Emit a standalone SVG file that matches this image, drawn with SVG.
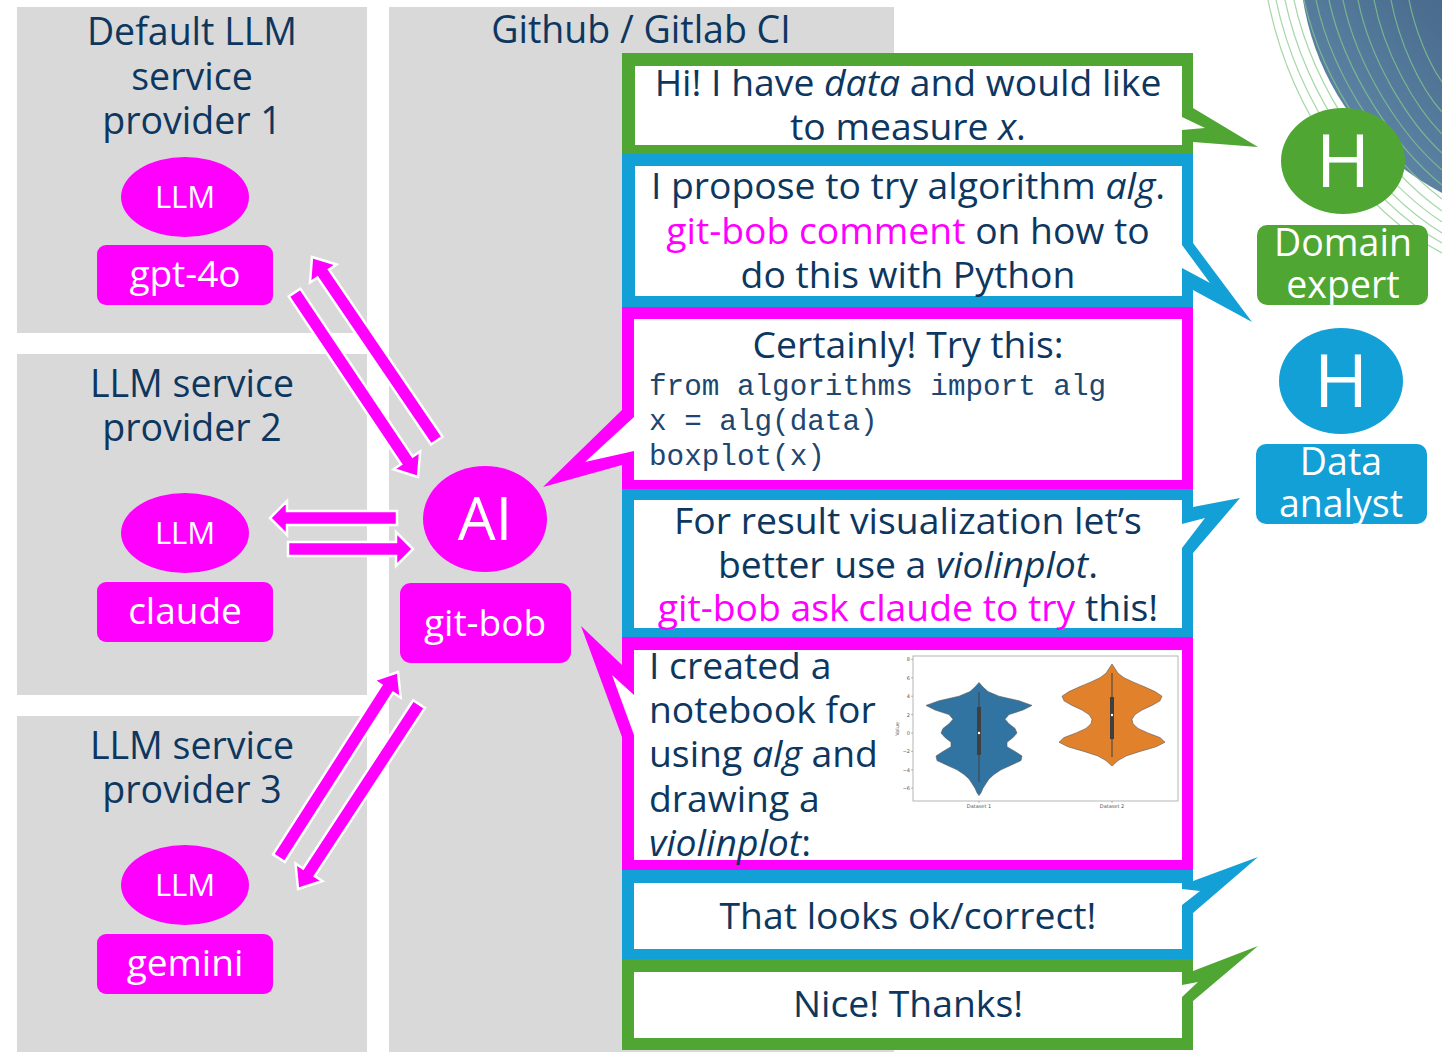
<svg xmlns="http://www.w3.org/2000/svg" width="1442" height="1052" viewBox="0 0 1442 1052">
  <defs>
    <style>
      .panel { fill: #d9d9d9; }
      .title { font-family: "Open Sans", "Liberation Sans", sans-serif; font-size: 37.5px; fill: #0d375f; text-anchor: middle; }
      .mag { fill: #ff00ff; }
      .wlabel { font-family: "Open Sans", "Liberation Sans", sans-serif; fill: #ffffff; text-anchor: middle; }
      .arrow { fill: #ff00ff; stroke: #ffffff; stroke-width: 2.5; stroke-linejoin: miter; }
      .say { font-family: "Open Sans", "Liberation Sans", sans-serif; font-size: 37.3px; fill: #0d375f; text-anchor: middle; }
      .left { text-anchor: start; }
      .code { font-family: "Liberation Mono", "Courier New", monospace; font-size: 29.3px; fill: #1d4670; }
      .pink { fill: #ff00ff; }
      .green { fill: #50a632; }
      .blue { fill: #12a0d7; }
      .white { fill: #ffffff; }
      .tick { font-family: "DejaVu Sans", sans-serif; font-size: 5px; fill: #555555; }
      .contour { fill: none; stroke: #86c98a; stroke-width: 1.2; opacity: 0.75; }
    </style>
    <linearGradient id="globe" x1="1" y1="0" x2="0" y2="1">
      <stop offset="0" stop-color="#2c4863"/>
      <stop offset="0.55" stop-color="#3f5f80"/>
      <stop offset="1" stop-color="#6a94b6"/>
    </linearGradient>
  </defs>

  <rect width="1442" height="1052" fill="#ffffff"/>

  <!-- corner decoration: globe with contour lines -->
  <g id="decor">
    <ellipse cx="1562" cy="-40" rx="262" ry="262" fill="url(#globe)"/>
    <path class="contour" d="M1268,0 C1290,110 1360,210 1442,253"/>
    <path class="contour" d="M1276,0 C1298,104 1366,200 1442,243"/>
    <path class="contour" d="M1285,0 C1306,98 1372,190 1442,233"/>
    <path class="contour" d="M1294,0 C1314,92 1378,180 1442,222"/>
    <path class="contour" d="M1304,0 C1323,86 1384,170 1442,211"/>
    <path class="contour" d="M1316,0 C1333,80 1390,160 1442,199"/>
    <path class="contour" d="M1329,0 C1345,74 1396,148 1442,185"/>
    <path class="contour" d="M1343,0 C1357,68 1402,136 1442,170"/>
    <path class="contour" d="M1358,0 C1370,60 1408,122 1442,153"/>
    <path class="contour" d="M1374,0 C1384,52 1414,106 1442,134"/>
    <path class="contour" d="M1391,0 C1399,42 1420,88 1442,112"/>
    <path class="contour" d="M1409,0 C1415,30 1428,62 1442,82"/>
  </g>

  <!-- provider panels -->
  <g id="provider1">
    <rect class="panel" x="17" y="7" width="350" height="326"/>
    <text class="title" x="192" y="45">Default LLM</text>
    <text class="title" x="192" y="90">service</text>
    <text class="title" x="192" y="134">provider 1</text>
    <ellipse class="mag" cx="185" cy="197" rx="64" ry="40"/>
    <text class="wlabel" x="185" y="208" font-size="31">LLM</text>
    <rect class="mag" x="97" y="245" width="176" height="60" rx="9"/>
    <text class="wlabel" x="185" y="287" font-size="37">gpt-4o</text>
  </g>

  <g id="provider2">
    <rect class="panel" x="17" y="354" width="350" height="341"/>
    <text class="title" x="192" y="397">LLM service</text>
    <text class="title" x="192" y="441">provider 2</text>
    <ellipse class="mag" cx="185" cy="533" rx="64" ry="40"/>
    <text class="wlabel" x="185" y="544" font-size="31">LLM</text>
    <rect class="mag" x="97" y="582" width="176" height="60" rx="9"/>
    <text class="wlabel" x="185" y="624" font-size="37">claude</text>
  </g>

  <g id="provider3">
    <rect class="panel" x="17" y="716" width="350" height="336"/>
    <text class="title" x="192" y="759">LLM service</text>
    <text class="title" x="192" y="803">provider 3</text>
    <ellipse class="mag" cx="185" cy="885" rx="64" ry="40"/>
    <text class="wlabel" x="185" y="896" font-size="31">LLM</text>
    <rect class="mag" x="97" y="934" width="176" height="60" rx="9"/>
    <text class="wlabel" x="185" y="976" font-size="37">gemini</text>
  </g>

  <g id="ci">
    <rect class="panel" x="389" y="7" width="505" height="1045"/>
    <text class="title" x="641" y="43">Github / Gitlab CI</text>
  </g>

  <!-- git-bob agent -->
  <g id="gitbob">
    <ellipse class="mag" cx="485" cy="519" rx="62" ry="53"/>
    <text class="wlabel" x="485" y="540" font-size="60">AI</text>
    <rect class="mag" x="400" y="583" width="171" height="80" rx="11"/>
    <text class="wlabel" x="485" y="636" font-size="37">git-bob</text>
  </g>

  <!-- request / response arrows between git-bob and the providers -->
  <g id="connectors">
    <polygon class="arrow" transform="translate(312,257) rotate(-124.2)" points="0,0 -20,-16 -20,-7 -222,-7 -222,7 -20,7 -20,16"/>
    <polygon class="arrow" transform="translate(418,477) rotate(56.2)" points="0,0 -20,-16 -20,-7 -222,-7 -222,7 -20,7 -20,16"/>
    <polygon class="arrow" transform="translate(270,518) rotate(180)" points="0,0 -17,-17 -17,-7 -127,-7 -127,7 -17,7 -17,17"/>
    <polygon class="arrow" transform="translate(413,549)" points="0,0 -17,-17 -17,-7 -125,-7 -125,7 -17,7 -17,17"/>
    <polygon class="arrow" transform="translate(398,672) rotate(-57.4)" points="0,0 -20,-16 -20,-7 -221,-7 -221,7 -20,7 -20,16"/>
    <polygon class="arrow" transform="translate(298,889) rotate(123.2)" points="0,0 -20,-16 -20,-7 -221,-7 -221,7 -20,7 -20,16"/>
  </g>

  <!-- conversation callouts -->
  <g id="msg1">
    <polygon class="green" points="622,53 1193,53 1193,108 1258,147 1193,142 1193,157 622,157"/>
    <polygon class="white" points="635,66 1182,66 1182,117 1205,128 1182,130 1182,145 635,145"/>
    <text class="say" x="908" y="96">Hi! I have <tspan font-style="italic">data</tspan> and would like</text>
    <text class="say" x="908" y="140">to measure <tspan font-style="italic">x</tspan>.</text>
  </g>

  <g id="msg2">
    <polygon class="blue" points="622,154 1193,154 1193,243 1252,322 1193,290 1193,310 622,310"/>
    <polygon class="white" points="635,166 1182,166 1182,245 1210,283 1182,268 1182,296 635,296"/>
    <text class="say" x="908" y="199">I propose to try algorithm <tspan font-style="italic">alg</tspan>.</text>
    <text class="say" x="908" y="244"><tspan class="pink">git-bob comment</tspan> on how to</text>
    <text class="say" x="908" y="288">do this with Python</text>
  </g>

  <g id="msg3">
    <polygon class="pink" points="622,307 1193,307 1193,491 622,491 622,465 543,487 622,410"/>
    <polygon class="white" points="634,319 1182,319 1182,480 634,480 634,451 585,462 634,417"/>
    <text class="say" x="908" y="358">Certainly! Try this:</text>
    <text class="code" x="649" y="395">from algorithms import alg</text>
    <text class="code" x="649" y="430">x = alg(data)</text>
    <text class="code" x="649" y="465">boxplot(x)</text>
  </g>

  <g id="msg4">
    <polygon class="blue" points="622,489 1193,489 1193,507 1240,498 1193,553 1193,640 622,640"/>
    <polygon class="white" points="634,500 1182,500 1182,524 1205,518 1182,548 1182,628 634,628"/>
    <text class="say" x="908" y="534">For result visualization let’s</text>
    <text class="say" x="908" y="578">better use a <tspan font-style="italic">violinplot</tspan>.</text>
    <text class="say" x="908" y="621"><tspan class="pink">git-bob ask claude to try</tspan> this!</text>
  </g>

  <g id="msg5">
    <polygon class="pink" points="622,637 1193,637 1193,872 622,872 622,737 581,626 622,665"/>
    <polygon class="white" points="634,650 1182,650 1182,860 634,860 634,735 612,675 634,695"/>
    <text class="say left" x="649" y="679">I created a</text>
    <text class="say left" x="649" y="723">notebook for</text>
    <text class="say left" x="649" y="767">using <tspan font-style="italic">alg</tspan> and</text>
    <text class="say left" x="649" y="812">drawing a</text>
    <text class="say left" x="649" y="856"><tspan font-style="italic">violinplot</tspan>:</text>

    <!-- violin plot figure -->
    <g id="plot">
      <rect x="913" y="656" width="265" height="145" fill="#ffffff" stroke="#b5b5b5" stroke-width="1"/>
      <g stroke="#888888" stroke-width="0.6">
        <line x1="911" y1="659.4" x2="913" y2="659.4"/>
        <line x1="911" y1="677.8" x2="913" y2="677.8"/>
        <line x1="911" y1="696.2" x2="913" y2="696.2"/>
        <line x1="911" y1="714.6" x2="913" y2="714.6"/>
        <line x1="911" y1="733" x2="913" y2="733"/>
        <line x1="911" y1="751.4" x2="913" y2="751.4"/>
        <line x1="911" y1="769.8" x2="913" y2="769.8"/>
        <line x1="911" y1="788.2" x2="913" y2="788.2"/>
        <line x1="979" y1="801" x2="979" y2="803"/>
        <line x1="1112" y1="801" x2="1112" y2="803"/>
      </g>
      <g class="tick" text-anchor="end">
        <text x="910" y="661">8</text>
        <text x="910" y="679.5">6</text>
        <text x="910" y="698">4</text>
        <text x="910" y="716.5">2</text>
        <text x="910" y="735">0</text>
        <text x="910" y="753">−2</text>
        <text x="910" y="771.5">−4</text>
        <text x="910" y="790">−6</text>
      </g>
      <text class="tick" x="979" y="808" text-anchor="middle">Dataset 1</text>
      <text class="tick" x="1112" y="808" text-anchor="middle">Dataset 2</text>
      <text class="tick" transform="translate(899,729) rotate(-90)" text-anchor="middle">Value</text>

      <polygon fill="#3274a1" stroke="#5a5a5a" stroke-width="0.6" stroke-linejoin="round" points="979,682.4 983,687 988,691.6 999,696.2 1019,700.8 1032,705.4 1023,710 1009,714.6 1005,719.2 1009,723.8 1015,728.4 1017,733 1013,737.6 1007,742.2 1007,746.8 1015,751.4 1022,756 1021,760.6 1011,765.2 1001,769.8 994,774.4 989,779 986,783.6 983,788.2 981,792.8 979,795.6 977,792.8 975,788.2 972,783.6 969,779 964,774.4 957,769.8 947,765.2 937,760.6 936,756 943,751.4 951,746.8 951,742.2 945,737.6 941,733 943,728.4 949,723.8 953,719.2 949,714.6 935,710 926,705.4 939,700.8 959,696.2 970,691.6 975,687"/>
      <polygon fill="#e1812c" stroke="#5a5a5a" stroke-width="0.6" stroke-linejoin="round" points="1112,664 1115,668.6 1118,673.2 1124,677.8 1134,682.4 1145,687 1155,691.6 1162,696.2 1160,700.8 1152,705.4 1142,710 1135,714.6 1132,719.2 1133,723.8 1138,728.4 1148,733 1160,737.6 1165,742.2 1156,746.8 1140,751.4 1126,756 1118,760.6 1112,766.1 1106,760.6 1098,756 1084,751.4 1068,746.8 1059,742.2 1064,737.6 1076,733 1086,728.4 1091,723.8 1092,719.2 1089,714.6 1082,710 1072,705.4 1064,700.8 1062,696.2 1069,691.6 1079,687 1090,682.4 1100,677.8 1106,673.2 1109,668.6"/>
      <g stroke="#3f3f3f">
        <line x1="979" y1="692" x2="979" y2="782" stroke-width="1"/>
        <line x1="979" y1="707" x2="979" y2="755" stroke-width="4"/>
        <line x1="1112" y1="673" x2="1112" y2="757" stroke-width="1"/>
        <line x1="1112" y1="697" x2="1112" y2="739" stroke-width="4"/>
      </g>
      <circle cx="979" cy="733" r="1.2" fill="#ffffff"/>
      <circle cx="1112" cy="715" r="1.2" fill="#ffffff"/>
    </g>
  </g>

  <g id="msg6">
    <polygon class="blue" points="622,870 1193,870 1193,881 1258,857 1193,913 1193,962 622,962"/>
    <polygon class="white" points="634,883 1182,883 1182,889 1200,891 1182,905 1182,949 634,949"/>
    <text class="say" x="908" y="929">That looks ok/correct!</text>
  </g>

  <g id="msg7">
    <polygon class="green" points="622,959 1193,959 1193,971 1258,946 1193,1001 1193,1050 622,1050"/>
    <polygon class="white" points="634,972 1182,972 1182,985 1198,982 1182,997 1182,1038 634,1038"/>
    <text class="say" x="908" y="1017">Nice! Thanks!</text>
  </g>

  <!-- human roles -->
  <g id="domain-expert">
    <ellipse class="green" cx="1343" cy="161" rx="62" ry="53"/>
    <text class="wlabel" x="1343" y="187" font-size="74">H</text>
    <rect class="green" x="1257" y="225" width="171" height="80" rx="10"/>
    <text class="wlabel" x="1343" y="256" font-size="37.5">Domain</text>
    <text class="wlabel" x="1343" y="298" font-size="37.5">expert</text>
  </g>

  <g id="data-analyst">
    <ellipse class="blue" cx="1341" cy="381" rx="62" ry="53"/>
    <text class="wlabel" x="1341" y="407" font-size="74">H</text>
    <rect class="blue" x="1256" y="444" width="171" height="80" rx="10"/>
    <text class="wlabel" x="1341" y="475" font-size="37.5">Data</text>
    <text class="wlabel" x="1341" y="517" font-size="37.5">analyst</text>
  </g>
</svg>
